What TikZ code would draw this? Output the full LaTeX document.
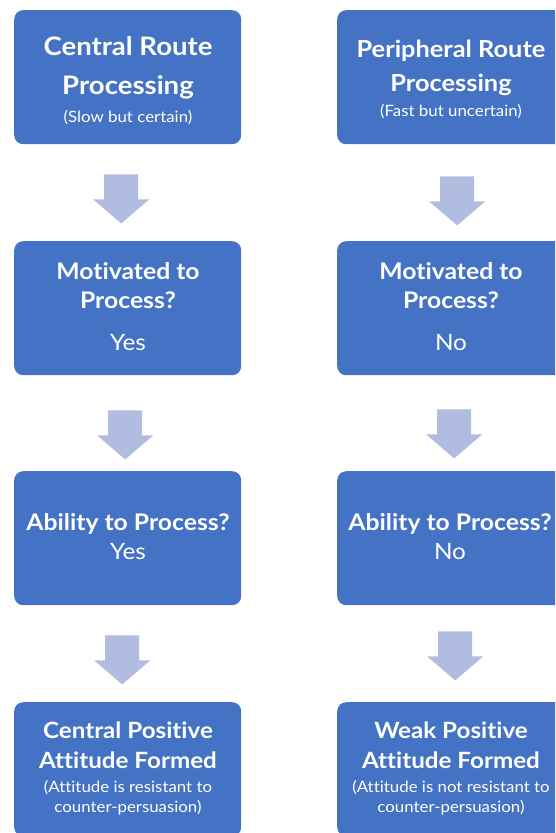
\documentclass[tikz,border=0pt]{standalone}
\usepackage{fontspec}
\setmainfont{Lato}[FakeStretch=1.08, Ligatures=NoCommon]
\usetikzlibrary{calc}
\definecolor{boxblue}{HTML}{4472C4}
\definecolor{arrowblue}{HTML}{B0BCE0}

\begin{document}
\begin{tikzpicture}[x=1pt,y=-1pt,
  stage/.style={fill=boxblue, rounded corners=9pt, minimum width=227pt,
    minimum height=134pt, inner sep=0pt, anchor=north west},
  title/.style={text=white, anchor=base, inner sep=0pt,
    font=\bfseries\fontsize{#1}{#1}\selectfont},
  answer/.style={text=white, anchor=base, inner sep=0pt,
    font=\fontsize{#1}{#1}\selectfont},
  downarr/.pic={\fill[arrowblue] (-17,0) -- (17,0) -- (17,25) -- (28,25)
    -- (0,49) -- (-28,25) -- (-17,25) -- cycle;}
]
\useasboundingbox (0,0) rectangle (555,833);
\clip (0,0) rectangle (555,833);

% stage boxes: left column (central route), right column (peripheral route)
\node[stage] (l1) at (14,10) {};
\node[stage] (r1) at (337,10) {};
\node[stage] (l2) at (14,241) {};
\node[stage] (r2) at (337,241) {};
\node[stage] (l3) at (14,471) {};
\node[stage] (r3) at (337,471) {};
\node[stage] (l4) at (14,702) {};
\node[stage] (r4) at (337,702) {};

% block arrows between stages
\pic at ($(l1.south)+(-6.5,30)$) {downarr};
\pic at ($(r1.south)+(6.5,32)$) {downarr};
\pic at ($(l2.south)+(-2.5,35)$) {downarr};
\pic at ($(r2.south)+(3.5,34)$) {downarr};
\pic at ($(l3.south)+(-5.5,30)$) {downarr};
\pic at ($(r3.south)+(4.5,26)$) {downarr};

% row 1
\node[title=25.5] (l1a) at (128,55) {Central Route};
\node[title=25.5] (l1b) at (128,94) {Processing};
\node[answer=15.6] (l1c) at (128,122) {(Slow but certain)};
\node[title=23.5] (r1a) at (451,57) {Peripheral Route};
\node[title=23.5] (r1b) at (451,91) {Processing};
\node[answer=15.6] (r1c) at (451,116) {(Fast but uncertain)};

% row 2
\node[title=22.9] (l2a) at (128,279) {Motivated to};
\node[title=22.9] (l2b) at (128,308) {Process?};
\node[answer=22.5] (l2c) at (128,350) {Yes};
\node[title=22.9] (r2a) at (451,279) {Motivated to};
\node[title=22.9] (r2b) at (451,308) {Process?};
\node[answer=22.5] (r2c) at (451,350) {No};

% row 3
\node[title=22.9] (l3a) at (128,530) {Ability to Process?};
\node[answer=22.5] (l3b) at (128,559) {Yes};
\node[title=22.9] (r3a) at (450,530) {Ability to Process?};
\node[answer=22.5] (r3b) at (450,559) {No};

% row 4
\node[title=22.4] (l4a) at (128,738) {Central Positive};
\node[title=22.4] (l4b) at (128,768) {Attitude Formed};
\node[answer=15.6] (l4c) at (128,792) {(Attitude is resistant to};
\node[answer=15.6] (l4d) at (128,812) {counter-persuasion)};
\node[title=22.4] (r4a) at (451,738) {Weak Positive};
\node[title=22.4] (r4b) at (451,768) {Attitude Formed};
\node[answer=15.6] (r4c) at (451,792) {(Attitude is not resistant to};
\node[answer=15.6] (r4d) at (451,812) {counter-persuasion)};
\end{tikzpicture}
\end{document}
